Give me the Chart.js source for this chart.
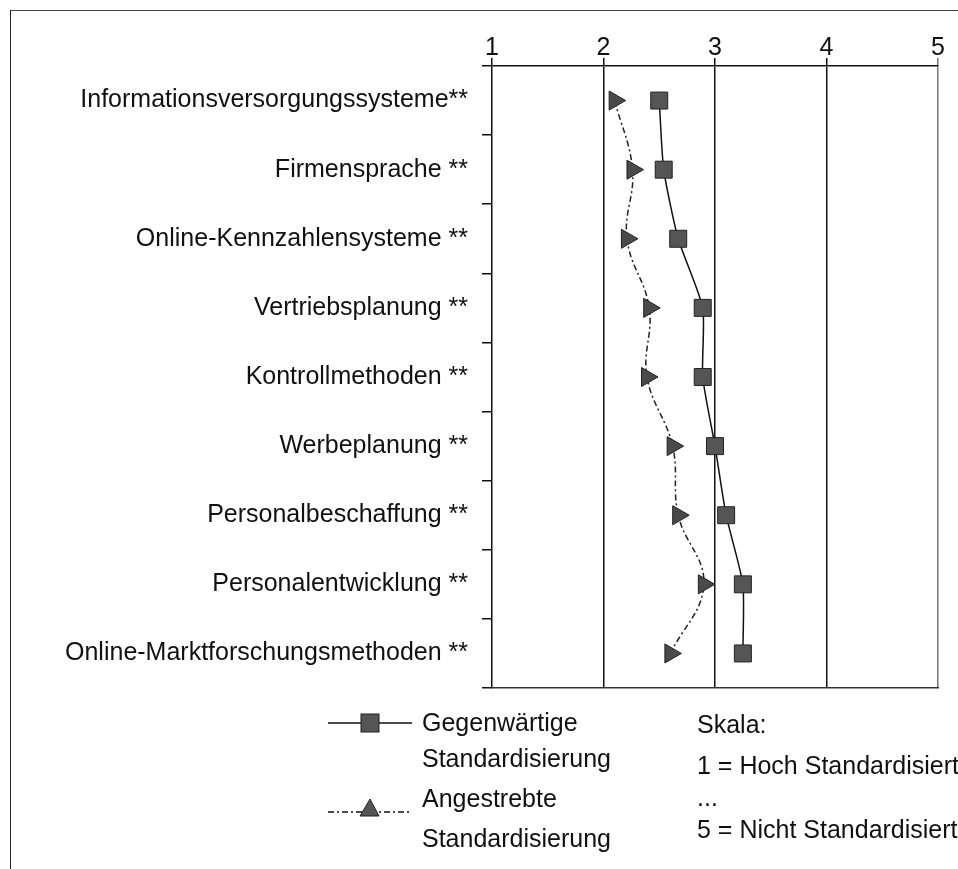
<!DOCTYPE html>
<html>
<head>
<meta charset="utf-8">
<script src="https://cdn.jsdelivr.net/npm/chart.js@4.4.1/dist/chart.umd.min.js"></script>
<style>
  body { margin: 0; background: #fff; font-family: "Liberation Sans", Arial, sans-serif; color: #111; }
  #wrap { position: relative; width: 958px; height: 869px; overflow: hidden; }
  #frame { position: absolute; left: 10px; top: 10px; width: 960px; height: 880px;
           border-left: 1.5px solid #222; border-top: 1.5px solid #444; }
  canvas { position: absolute; left: 0; top: 0; }
  .txt { position: absolute; font-size: 25px; white-space: nowrap; line-height: 1; }
  svg { position: absolute; }
</style>
</head>
<body>
<div id="wrap">
  <div id="frame"></div>
  <canvas id="chart" width="958" height="869"></canvas>

  <svg style="left:326px; top:710px" width="90" height="26">
    <line x1="2" y1="13" x2="86" y2="13" stroke="#111" stroke-width="1.5"/>
    <rect x="35" y="4" width="18" height="18" fill="#555" stroke="#222" stroke-width="1"/>
  </svg>
  <div class="txt" style="left:422px; top:710px">Gegenwärtige</div>
  <div class="txt" style="left:422px; top:746px">Standardisierung</div>

  <svg style="left:326px; top:796px" width="90" height="24">
    <line x1="2" y1="16" x2="86" y2="16" stroke="#111" stroke-width="1.3" stroke-dasharray="6,3,2,3"/>
    <polygon points="34,20 44,3 53,20" fill="#555" stroke="#222" stroke-width="1"/>
  </svg>
  <div class="txt" style="left:422px; top:786px">Angestrebte</div>
  <div class="txt" style="left:422px; top:826px">Standardisierung</div>

  <div class="txt" style="left:697px; top:712px">Skala:</div>
  <div class="txt" style="left:697px; top:753px">1 = Hoch Standardisiert</div>
  <div class="txt" style="left:697px; top:785px">...</div>
  <div class="txt" style="left:697px; top:817px">5 = Nicht Standardisiert</div>
</div>

<script>
const categories = [
  'Informationsversorgungssysteme**',
  'Firmensprache **',
  'Online-Kennzahlensysteme **',
  'Vertriebsplanung **',
  'Kontrollmethoden **',
  'Werbeplanung **',
  'Personalbeschaffung **',
  'Personalentwicklung **',
  'Online-Marktforschungsmethoden **'
];
const current = [2.50, 2.54, 2.67, 2.89, 2.89, 3.00, 3.10, 3.25, 3.25];
const target = [2.10, 2.26, 2.21, 2.41, 2.39, 2.62, 2.67, 2.90, 2.60];
const scaleTicks = [1, 2, 3, 4, 5];

const ctx = document.getElementById('chart').getContext('2d');

const chart = new Chart(ctx, {
  type: 'line',
  data: {
    labels: categories,
    datasets: [{
      label: 'Gegenwärtige Standardisierung',
      data: current,
      borderColor: '#111',
      borderWidth: 1.5,
      tension: 0.2,
      pointStyle: 'rect',
      pointRadius: 12,
      pointBackgroundColor: '#555',
      pointBorderColor: '#222',
      pointBorderWidth: 1
    }, {
      label: 'Angestrebte Standardisierung',
      data: target,
      borderColor: '#222',
      borderWidth: 1.5,
      borderDash: [6, 3, 2, 3],
      tension: 0.4,
      pointStyle: 'triangle',
      pointRotation: 90,
      pointRadius: 11,
      pointBackgroundColor: '#4a4a4a',
      pointBorderColor: '#222',
      pointBorderWidth: 1
    }]
  },
  options: {
    responsive: false,
    animation: false,
    indexAxis: 'y',
    layout: { padding: { left: 0, right: 20, top: 0, bottom: 181 } },
    plugins: {
      legend: { display: false },
      tooltip: { enabled: false }
    },
    scales: {
      x: {
        type: 'linear',
        position: 'top',
        min: 1,
        max: 5,
        afterBuildTicks: (s) => { s.ticks = scaleTicks.map(v => ({ value: v })); },
        afterFit: (s) => { s.height = 66; },
        ticks: {
          color: '#111',
          padding: -5,
          font: { family: 'Liberation Sans', size: 25 }
        },
        grid: {
          color: (c) => (c.tick && c.tick.value === 5 ? '#777' : '#111'),
          lineWidth: 1.5,
          tickLength: 8
        },
        border: { display: true, color: '#111', width: 1.5 }
      },
      x2: {
        type: 'linear',
        position: 'bottom',
        min: 1,
        max: 5,
        afterFit: (s) => { s.height = 0; },
        ticks: { display: false },
        grid: { display: false },
        border: { display: true, color: '#333', width: 1.5 }
      },
      y: {
        type: 'category',
        position: 'left',
        offset: true,
        afterFit: (s) => { s.width = 492; },
        ticks: {
          color: '#111',
          padding: 14,
          font: { family: 'Liberation Sans', size: 25 }
        },
        grid: {
          offset: true,
          drawOnChartArea: false,
          drawTicks: true,
          tickLength: 10,
          color: '#111',
          lineWidth: 1.5
        },
        border: { display: false }
      }
    }
  }
});
</script>
</body>
</html>
